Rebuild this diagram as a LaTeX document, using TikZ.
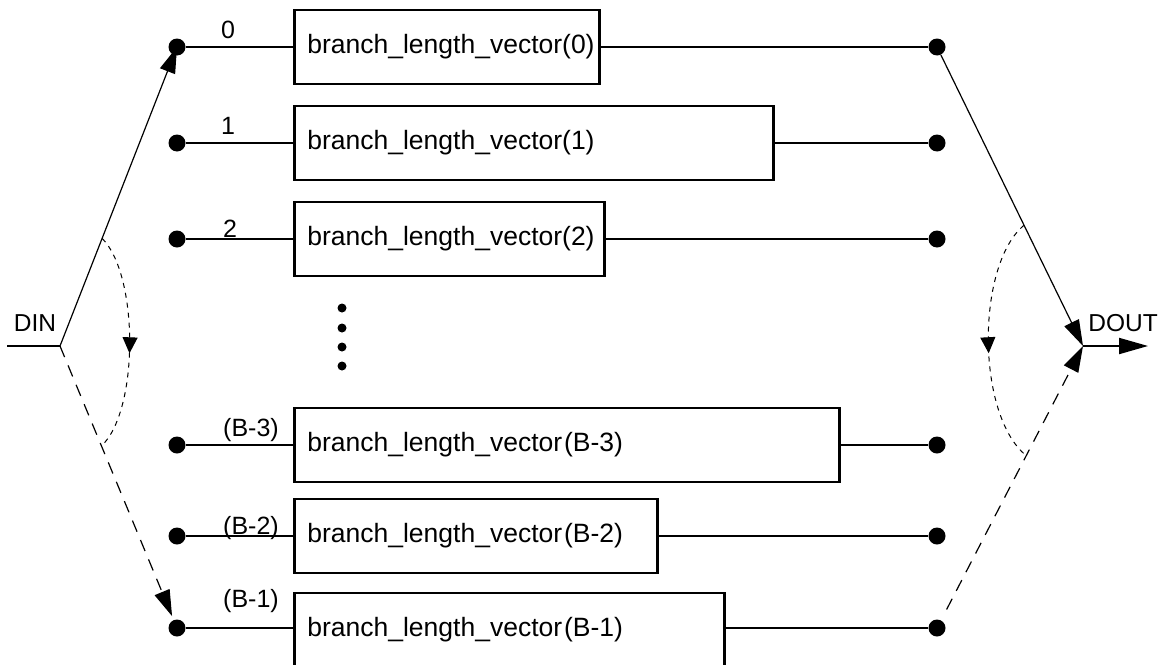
\documentclass[tikz,border=0pt]{standalone}
\usepackage{fontspec}
\setmainfont{Liberation Sans}
\usepackage{tikz}
\usetikzlibrary{arrows.meta,positioning,decorations.markings}

\begin{document}
\begin{tikzpicture}[x=0.5pt,y=-0.5pt,
  dot/.style={circle,fill,inner sep=0pt,minimum size=8.5pt},
  vdot/.style={circle,fill,inner sep=0pt,minimum size=4.5pt},
  vecbox/.style={draw,line width=1.35pt,anchor=west,align=left,inner sep=0pt,
    minimum height=37pt,text width=#1,font=\fontsize{13.25}{16}\selectfont},
  idx/.style={anchor=base,inner sep=0pt,font=\fontsize{12.5}{15}\selectfont},
  port/.style={anchor=base,inner sep=0pt,font=\fontsize{12.25}{15}\selectfont},
  wire/.style={line width=1pt},
  thin/.style={line width=0.6pt},
  dashline/.style={line width=0.6pt,dash pattern=on 6pt off 4.5pt},
  bigtip/.style={-{Triangle[length=13pt,width=8pt]}},
  swing/.style={line width=0.5pt,dash pattern=on 2.5pt off 2.5pt,postaction={decorate},
    decoration={markings,mark=at position 0.55 with {\arrow{Triangle[length=8pt,width=7.5pt]}}}}
]
\useasboundingbox (0,0) rectangle (1165,664);
\clip (0,0) rectangle (1165,664);

% branch 0
\node[dot] (l0) at (177,47) {};
\node[vecbox=152.5pt] (b0) at (293,47) {\hspace*{6.5pt}branch\_length\_vector(0)};
\node[dot] (r0) at (937,47) {};
\node[idx] (n0) at (228,38) {0};
\draw[wire] (l0) -- (b0) -- (r0);

% branch 1
\node[dot] (l1) at (177,143) {};
\node[vecbox=239.6pt] (b1) at (293,143) {\hspace*{6.5pt}branch\_length\_vector(1)};
\node[dot] (r1) at (937,143) {};
\node[idx] (n1) at (228,134) {1};
\draw[wire] (l1) -- (b1) -- (r1);

% branch 2
\node[dot] (l2) at (177,239) {};
\node[vecbox=155pt] (b2) at (293,239) {\hspace*{6.5pt}branch\_length\_vector(2)};
\node[dot] (r2) at (937,239) {};
\node[idx] (n2) at (230,237) {2};
\draw[wire] (l2) -- (b2) -- (r2);

\node[vdot] (v1) at (342,308) {};
\node[vdot] (v2) at (342,328) {};
\node[vdot] (v3) at (342,347) {};
\node[vdot] (v4) at (342,366) {};

% branch B-3
\node[dot] (lB3) at (177,445) {};
\node[vecbox=272.6pt] (bB3) at (293,445) {\hspace*{6.5pt}branch\_length\_vector\kern1pt(B-3)};
\node[dot] (rB3) at (937,445) {};
\node[idx] (nB3) at (251,436) {(B-3)};
\draw[wire] (lB3) -- (bB3) -- (rB3);

% branch B-2
\node[dot] (lB2) at (177,536) {};
\node[vecbox=181.6pt] (bB2) at (293,536) {\hspace*{6.5pt}branch\_length\_vector\kern1pt(B-2)};
\node[dot] (rB2) at (937,536) {};
\node[idx] (nB2) at (251,534) {(B-2)};
\draw[wire] (lB2) -- (bB2) -- (rB2);

% branch B-1
\node[dot] (lB1) at (177,628) {};
\node[vecbox=215.2pt] (bB1) at (293,630) {\hspace*{6.5pt}branch\_length\_vector\kern1pt(B-1)};
\node[dot] (rB1) at (937,628) {};
\node[idx] (nB1) at (251,607) {(B-1)};
\draw[wire] (lB1) -- (lB1 -| bB1.west);
\draw[wire] (rB1) -- (rB1 -| bB1.east);

% input side
\coordinate (inend) at (7,346);
\coordinate (din) at (60,346);
\node[port] (dinlbl) at (35,331) {DIN};
\draw[thin] (inend) -- (din);
\draw[thin,bigtip] (din) -- coordinate[pos=0.36] (swingLa) (l0.center);
\draw[dashline,bigtip,shorten >=2pt] (din) -- coordinate[pos=0.365] (swingLb) (lB1);
\draw[swing] (swingLa) .. controls (139,275) and (139,411) .. (swingLb);

% output side
\coordinate (dout) at (1083,346);
\coordinate (outend) at (1148,346);
\node[port] (doutlbl) at (1123,331) {DOUT};
\draw[thin,bigtip] (r0) -- coordinate[pos=0.585] (swingRa) (dout);
\draw[dashline,bigtip,shorten <=6pt] (rB1) -- coordinate[pos=0.6] (swingRb) (dout);
\draw[wire,-{Triangle[length=14.5pt,width=8pt]}] (dout) -- (outend);
\draw[swing] (swingRa) .. controls (976,265) and (976,415) .. (swingRb);
\end{tikzpicture}
\end{document}
